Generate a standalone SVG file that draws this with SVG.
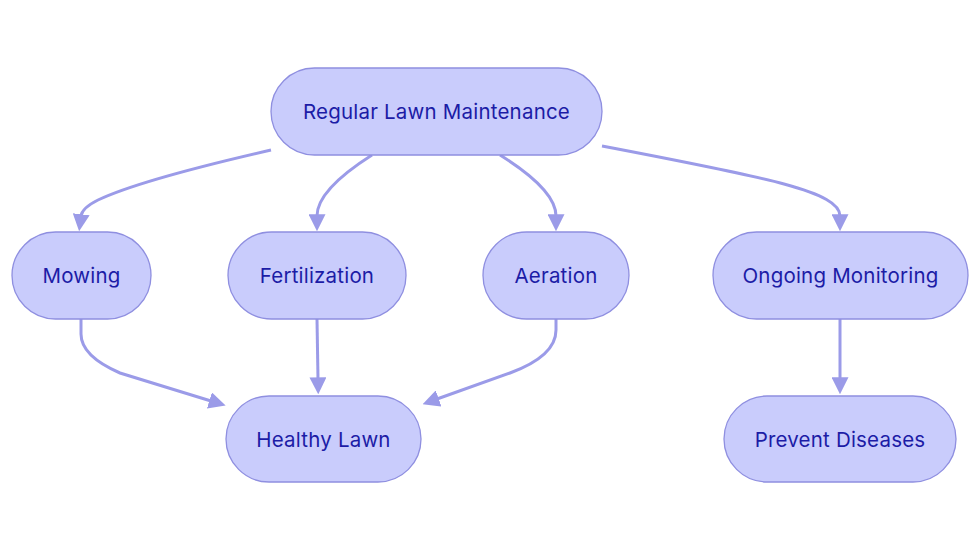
<svg xmlns="http://www.w3.org/2000/svg" width="980" height="553" viewBox="0 0 980 553">
<defs>
<style>
.node rect{fill:#c9ccfc;stroke:#8f8fe0;stroke-width:1.3}
.node text{font-family:Inter,"Noto Sans","Liberation Sans",sans-serif;font-size:20.5px;fill:#1c1ca6;text-anchor:middle;dominant-baseline:central;letter-spacing:0.2px}
.edges path{fill:none;stroke:#9b9be8;stroke-width:3;marker-end:url(#arr)}
</style>
<marker id="arr" viewBox="0 0 10 10" refX="1" refY="5" markerUnits="userSpaceOnUse" markerWidth="17" markerHeight="17" orient="auto">
<path d="M0,0 L10,5 L0,10 z" fill="#9b9be8"/>
</marker>
</defs>
<rect width="980" height="553" fill="#fff"/>
<g class="edges">
<path d="M271,150 Q140,180 98,200 Q82,208 81,216"/>
<path d="M372,155 Q317,190 317,216"/>
<path d="M500,155 Q556,190 556,216"/>
<path d="M602,146 C770,178 840,192 840,216"/>
<path d="M81,319 L81,334 Q81,356 120,373 L211,401"/>
<path d="M317,319 L318,379"/>
<path d="M556,319 L556,330 Q556,356 510,373 L437,399"/>
<path d="M840,319 L840,379"/>
</g>
<g id="n-regular" class="node"><rect x="271" y="68" width="331" height="87" rx="43.5"/><text x="436.5" y="111">Regular Lawn Maintenance</text></g>
<g id="n-mowing" class="node"><rect x="12" y="232" width="139" height="87" rx="43.5"/><text x="81.5" y="275">Mowing</text></g>
<g id="n-fert" class="node"><rect x="228" y="232" width="178" height="87" rx="43.5"/><text x="317" y="275">Fertilization</text></g>
<g id="n-aer" class="node"><rect x="483" y="232" width="146" height="87" rx="43.5"/><text x="556" y="275">Aeration</text></g>
<g id="n-ongoing" class="node"><rect x="713" y="232" width="255" height="87" rx="43.5"/><text x="840.5" y="275">Ongoing Monitoring</text></g>
<g id="n-healthy" class="node"><rect x="226" y="396" width="195" height="86" rx="43"/><text x="323.5" y="439">Healthy Lawn</text></g>
<g id="n-prevent" class="node"><rect x="724" y="396" width="232" height="86" rx="43"/><text x="840" y="439">Prevent Diseases</text></g>
</svg>
